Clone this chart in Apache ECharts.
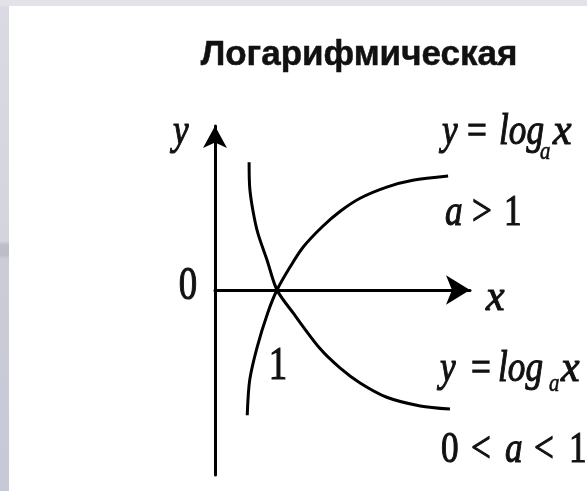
<!DOCTYPE html>
<html>
<head>
<meta charset="utf-8">
<script src="https://cdn.jsdelivr.net/npm/echarts@6.0.0/dist/echarts.min.js"></script>
<style>
  html, body { margin: 0; padding: 0; }
  #wrap { position: relative; width: 587px; height: 491px; background: #e2e2e8; overflow: hidden; }
  #strip { position: absolute; left: 0; top: 6px; width: 9px; height: 485px;
    background: linear-gradient(to bottom, #dadae2 0px, #d4d4dc 235px, #bcbdc7 239px, #bcbdc7 249px, #cbccd8 253px, #c8c9d6 485px); }
  #panel { position: absolute; left: 9px; top: 6px; right: 0; bottom: 0; background: #fff; }
  #main { position: absolute; left: 0; top: 0; width: 587px; height: 491px; }
</style>
</head>
<body>
<div id="wrap">
  <div id="strip"></div>
  <div id="panel"></div>
  <div id="main"></div>
</div>
<script>
// кривые, единица = 62px
var incX = [0.52, 0.56, 0.68, 0.85, 1.00, 1.21, 1.42, 1.73, 2.02, 2.34, 2.77, 3.19, 3.76];
var incY = [-2.02, -1.45, -0.92, -0.37, 0.00, 0.37, 0.69, 1.02, 1.27, 1.48, 1.66, 1.77, 1.84];
var decX = [0.55, 0.56, 0.61, 0.69, 0.84, 1.00, 1.26, 1.69, 2.02, 2.34, 2.77, 3.31, 3.79];
var decY = [2.06, 1.65, 1.29, 0.92, 0.48, 0.00, -0.37, -0.94, -1.26, -1.50, -1.73, -1.87, -1.92];

var titleText = 'Логарифмическая';

var UNIT = 62;
var originX = 215, originY = 290;
var gridTop = 126, gridBottom = 475, gridRight = 470;

function pairs(xs, ys) {
  var out = [];
  for (var i = 0; i < xs.length; i++) {
    out.push([xs[i], ys[i]]);
  }
  return out;
}

// текст по базовой линии: left, baseline
function txt(s, x, base, size, italic, align, sx) {
  return {
    type: 'text',
    x: x,
    y: base - 0.34 * size,
    scaleX: sx || 0.8,
    silent: true,
    style: {
      text: s,
      font: (italic ? 'italic ' : '') + size + 'px "Liberation Serif", "DejaVu Serif", serif',
      fill: '#111',
      stroke: '#111',
      lineWidth: size > 30 ? 1.1 : 0.6,
      textAlign: align || 'left',
      textVerticalAlign: 'middle'
    }
  };
}

var labels = [
  // y = log_a x, a > 1
  txt('y', 442, 147, 44, true),
  txt('=', 467, 147, 44, false),
  txt('log', 499, 147, 44, true),
  txt('a', 540, 161, 26, true),
  txt('x', 553, 147, 44, true, 'left', 0.95),
  txt('a', 445, 228, 44, true),
  txt('>', 472, 228, 44, false),
  txt('1', 504, 228, 44, false),
  // y = log_a x, 0 < a < 1
  txt('y', 440, 384, 44, true),
  txt('=', 471, 384, 44, false),
  txt('log', 498, 384, 44, true),
  txt('a', 549, 393, 26, true),
  txt('x', 561, 384, 44, true, 'left', 0.95),
  txt('0', 441, 465, 44, false),
  txt('<', 471, 465, 44, false),
  txt('a', 505, 465, 44, true),
  txt('<', 534, 465, 44, false),
  txt('1', 569, 465, 44, false),
  // подписи осей
  txt('y', 173, 147, 44, true),
  txt('0', 188, 303, 46, false, 'center'),
  txt('1', 278, 383, 46, false, 'center'),
  txt('x', 486, 313, 44, true, 'left', 0.95),
  {
    type: 'text',
    x: 359,
    y: 68 - 0.35 * 35,
    silent: true,
    style: {
      text: titleText,
      font: 'bold 35px "Liberation Sans", Arial, sans-serif',
      fill: '#111',
      stroke: '#111',
      lineWidth: 0.5,
      textAlign: 'center',
      textVerticalAlign: 'middle'
    }
  }
];

var chart = echarts.init(document.getElementById('main'));
chart.setOption({
  animation: false,
  grid: { left: originX, top: gridTop, width: gridRight - originX, height: gridBottom - gridTop },
  xAxis: {
    type: 'value',
    min: 0,
    max: (gridRight - originX) / UNIT,
    axisLine: { onZero: true, symbol: ['none', 'arrow'], symbolSize: [22, 24], lineStyle: { color: '#000', width: 3 } },
    axisTick: { show: false },
    axisLabel: { show: false },
    splitLine: { show: false }
  },
  yAxis: {
    type: 'value',
    min: -(gridBottom - originY) / UNIT,
    max: (originY - gridTop) / UNIT,
    axisLine: { show: true, symbol: ['none', 'arrow'], symbolSize: [18, 22], lineStyle: { color: '#000', width: 3 } },
    axisTick: { show: false },
    axisLabel: { show: false },
    splitLine: { show: false }
  },
  series: [
    {
      name: 'a > 1',
      type: 'line',
      data: pairs(incX, incY),
      smooth: 0.3,
      symbol: 'none',
      lineStyle: { color: '#000', width: 3 }
    },
    {
      name: '0 < a < 1',
      type: 'line',
      data: pairs(decX, decY),
      smooth: 0.3,
      symbol: 'none',
      lineStyle: { color: '#000', width: 3 }
    }
  ],
  graphic: labels
});
</script>
</body>
</html>
